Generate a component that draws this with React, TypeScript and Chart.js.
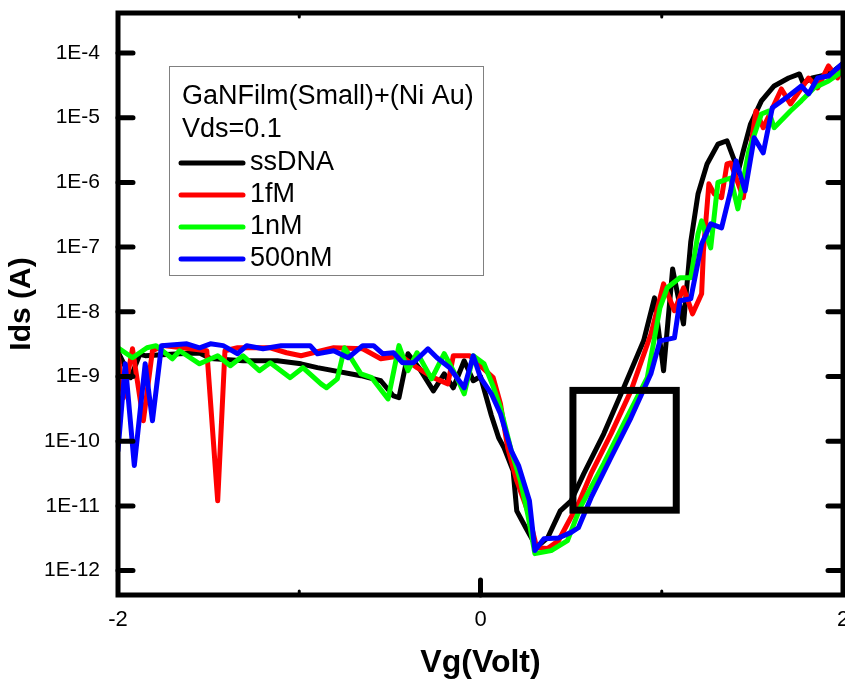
import React, { useEffect, useRef } from "react";
import { Chart, registerables } from "chart.js";

Chart.register(...registerables);

type Pt = [number, number];

// Vg (V), Ids (A)
const ssDNA: Pt[] = [
  [-2.0, 2.4e-9], [-1.93, 9.6e-10], [-1.88, 2.2e-9], [-1.85, 2.1e-9], [-1.66, 2.25e-9], [-1.55, 2.3e-9],
  [-1.49, 1.9e-9], [-1.31, 1.75e-9], [-1.12, 1.75e-9], [-0.99, 1.57e-9], [-0.9, 1.37e-9], [-0.66, 1.03e-9],
  [-0.55, 8.6e-10], [-0.48, 5.0e-10], [-0.45, 4.7e-10], [-0.4, 2.25e-9], [-0.34, 1.37e-9], [-0.26, 6.0e-10],
  [-0.2, 1.1e-9], [-0.15, 6.7e-10], [-0.09, 1.75e-9], [-0.04, 8.6e-10], [0.0, 1.0e-9], [0.06, 2.5e-10],
  [0.1, 1.13e-10], [0.13, 7.9e-11], [0.18, 3.5e-11], [0.2, 8.4e-12], [0.25, 4.6e-12], [0.31, 2.3e-12],
  [0.37, 3.2e-12], [0.44, 8.4e-12], [0.5, 1.2e-11], [0.57, 3.15e-11], [0.68, 1.3e-10], [0.79, 6.7e-10],
  [0.9, 3.56e-9], [0.96, 1.64e-8], [1.01, 1.23e-9], [1.06, 4.6e-8], [1.12, 6.5e-9], [1.16, 1.2e-7],
  [1.2, 6.6e-7], [1.25, 1.93e-6], [1.31, 3.9e-6], [1.36, 4.4e-6], [1.4, 2.2e-6], [1.42, 1.4e-6],
  [1.45, 3.06e-6], [1.49, 8.0e-6], [1.55, 1.82e-5], [1.62, 3.09e-5], [1.7, 4.11e-5], [1.76, 4.74e-5],
  [1.78, 3.44e-5], [1.83, 4.11e-5], [1.88, 4.4e-5], [1.95, 5.3e-5], [2.0, 6.8e-5],
];

const fM1: Pt[] = [
  [-2.0, 2.25e-9], [-1.97, 4.7e-10], [-1.92, 2.68e-9], [-1.86, 2.07e-10], [-1.81, 2.5e-9], [-1.75, 3.0e-9],
  [-1.51, 2.5e-9], [-1.45, 1.2e-11], [-1.41, 2.5e-9], [-1.34, 2.78e-9], [-1.16, 2.78e-9], [-1.07, 2.33e-9],
  [-0.99, 2.09e-9], [-0.81, 2.78e-9], [-0.65, 2.68e-9], [-0.55, 1.88e-9], [-0.44, 2.09e-9], [-0.35, 1.37e-9],
  [-0.26, 9.6e-10], [-0.18, 7.7e-10], [-0.15, 2.09e-9], [-0.06, 2.09e-9], [0.01, 1.37e-9], [0.07, 9.6e-10],
  [0.11, 3.8e-10], [0.15, 7.9e-11], [0.2, 2.45e-11], [0.26, 8.4e-12], [0.31, 2.26e-12], [0.37, 2.19e-12],
  [0.43, 2.9e-12], [0.48, 5.3e-12], [0.54, 1.08e-11], [0.61, 3.15e-11], [0.72, 1.3e-10], [0.83, 6.0e-10],
  [0.94, 4.5e-9], [1.01, 2.7e-8], [1.07, 1.04e-8], [1.12, 2.35e-8], [1.17, 9.3e-9], [1.22, 1.9e-8],
  [1.23, 8.7e-8], [1.26, 9.5e-7], [1.29, 6.6e-7], [1.33, 5.8e-7], [1.36, 1.93e-6], [1.38, 2.0e-6],
  [1.45, 5.8e-7], [1.52, 1.27e-5], [1.56, 7.0e-6], [1.66, 2.78e-5], [1.71, 1.63e-5], [1.81, 4.1e-5],
  [1.86, 2.88e-5], [1.92, 6.3e-5], [1.97, 4.11e-5], [2.0, 7.0e-5],
];

const nM1: Pt[] = [
  [-2.0, 2.78e-9], [-1.92, 1.95e-9], [-1.84, 2.78e-9], [-1.79, 3.0e-9], [-1.7, 1.88e-9], [-1.66, 2.5e-9],
  [-1.55, 1.57e-9], [-1.45, 2.09e-9], [-1.38, 1.47e-9], [-1.31, 2.09e-9], [-1.22, 1.23e-9], [-1.16, 1.63e-9],
  [-1.05, 9.6e-10], [-0.98, 1.37e-9], [-0.88, 7.7e-10], [-0.85, 6.7e-10], [-0.79, 9.2e-10], [-0.75, 2.78e-9],
  [-0.66, 1.1e-9], [-0.6, 9.6e-10], [-0.51, 4.5e-10], [-0.45, 3.0e-9], [-0.4, 1.23e-9], [-0.35, 2.33e-9],
  [-0.27, 9.2e-10], [-0.2, 2.25e-9], [-0.13, 9.6e-10], [-0.09, 5.4e-10], [-0.04, 2.09e-9], [0.02, 1.57e-9],
  [0.07, 7.0e-10], [0.11, 3.3e-10], [0.17, 7.1e-11], [0.22, 2.45e-11], [0.26, 7.6e-12], [0.3, 1.83e-12],
  [0.39, 2.04e-12], [0.48, 2.9e-12], [0.55, 9.4e-12], [0.68, 4.5e-11], [0.79, 1.86e-10], [0.92, 9.6e-10],
  [0.99, 1.15e-8], [1.03, 2.35e-8], [1.1, 3.35e-8], [1.16, 3.35e-8], [1.2, 1.6e-7], [1.22, 2.54e-7],
  [1.27, 9.7e-8], [1.31, 1.0e-6], [1.38, 1.17e-6], [1.42, 3.9e-7], [1.48, 3.06e-6], [1.55, 1.14e-5],
  [1.59, 1.27e-5], [1.62, 7.0e-6], [1.71, 1.27e-5], [1.77, 1.82e-5], [1.84, 2.88e-5], [1.92, 3.7e-5],
  [2.0, 5.3e-5],
];

const nM500: Pt[] = [
  [-2.0, 7.1e-11], [-1.96, 1.57e-9], [-1.91, 4.2e-11], [-1.85, 1.57e-9], [-1.81, 2.07e-10], [-1.76, 3.0e-9],
  [-1.62, 3.2e-9], [-1.55, 2.78e-9], [-1.49, 3.2e-9], [-1.42, 3.0e-9], [-1.34, 2.25e-9], [-1.29, 3.0e-9],
  [-1.2, 2.68e-9], [-1.1, 3.0e-9], [-0.94, 3.0e-9], [-0.9, 2.25e-9], [-0.81, 2.5e-9], [-0.73, 1.95e-9],
  [-0.65, 3.0e-9], [-0.59, 3.0e-9], [-0.54, 2.25e-9], [-0.48, 2.33e-9], [-0.43, 1.63e-9], [-0.37, 1.63e-9],
  [-0.29, 2.68e-9], [-0.24, 1.95e-9], [-0.17, 1.37e-9], [-0.09, 6.7e-10], [-0.04, 2.09e-9], [0.0, 9.6e-10],
  [0.06, 5.4e-10], [0.11, 2.66e-10], [0.17, 7.1e-11], [0.21, 4.2e-11], [0.27, 1.2e-11], [0.3, 2.04e-12],
  [0.35, 3.1e-12], [0.43, 3.2e-12], [0.5, 3.9e-12], [0.54, 4.6e-12], [0.61, 1.34e-11], [0.72, 5.6e-11],
  [0.83, 2.3e-10], [0.94, 1.1e-9], [0.99, 3.56e-9], [1.07, 3.96e-9], [1.1, 1.48e-8], [1.16, 1.59e-8],
  [1.22, 1.12e-7], [1.27, 2.29e-7], [1.33, 1.98e-7], [1.38, 7.4e-7], [1.41, 2.15e-6], [1.46, 7.4e-7],
  [1.51, 4.9e-6], [1.56, 2.86e-6], [1.61, 1.42e-5], [1.7, 2.17e-5], [1.77, 3.09e-5], [1.81, 2.33e-5],
  [1.86, 4.11e-5], [1.92, 4.4e-5], [2.0, 7.0e-5],
];

const seriesLabels = ["ssDNA", "1fM", "1nM", "500nM"];
const seriesColors = ["#000000", "#ff0000", "#00ff00", "#0000ff"];
const seriesData = [ssDNA, fM1, nM1, nM500];

const legendHeader = ["GaNFilm(Small)+(Ni Au)", "Vds=0.1"];

const xMin = -2;
const xMax = 2;
const xTickValues = [-2, 0, 2];
const xMinorTickValues = [-1, 1];
const yMin = 4.2e-13;
const yMax = 4.15e-4;
const yTickValues = [1e-12, 1e-11, 1e-10, 1e-9, 1e-8, 1e-7, 1e-6, 1e-5, 1e-4];

// highlighted region (Vg range, Ids range)
const boxVg = [0.51, 1.08];
const boxIds = [8.6e-12, 6.1e-10];

const FONT = "'Liberation Sans', Arial, sans-serif";
const NARROW = "'Liberation Sans Narrow', 'Liberation Sans', Arial, sans-serif";

export default function App() {
  const ref = useRef<HTMLCanvasElement>(null);

  useEffect(() => {
    document.body.style.margin = "0";
    const canvas = ref.current;
    if (!canvas) return;

    const framePlugin = {
      id: "frame",
      afterDatasetsDraw(chart: any) {
        const { ctx, chartArea: a, scales } = chart;
        const xs = scales.x;
        const ys = scales.y;
        ctx.save();
        ctx.strokeStyle = "#000";
        // highlight box
        ctx.lineWidth = 7;
        ctx.lineJoin = "miter";
        const bx0 = xs.getPixelForValue(boxVg[0]);
        const bx1 = xs.getPixelForValue(boxVg[1]);
        const by0 = ys.getPixelForValue(boxIds[1]);
        const by1 = ys.getPixelForValue(boxIds[0]);
        ctx.strokeRect(bx0, by0, bx1 - bx0, by1 - by0);
        // frame
        ctx.lineWidth = 5;
        ctx.strokeRect(a.left, a.top, a.right - a.left, a.bottom - a.top);
        // ticks
        ctx.lineCap = "round";
        for (const v of yTickValues) {
          const py = ys.getPixelForValue(v);
          ctx.beginPath();
          ctx.moveTo(a.left, py);
          ctx.lineTo(a.left + 15, py);
          ctx.moveTo(a.right, py);
          ctx.lineTo(a.right - 15, py);
          ctx.stroke();
        }
        for (const v of xTickValues) {
          const px = xs.getPixelForValue(v);
          if (px <= a.left + 2 || px >= a.right - 2) continue;
          ctx.beginPath();
          ctx.moveTo(px, a.bottom);
          ctx.lineTo(px, a.bottom - 15);
          ctx.stroke();
        }
        ctx.lineWidth = 3;
        for (const v of xMinorTickValues) {
          const px = xs.getPixelForValue(v);
          ctx.beginPath();
          ctx.moveTo(px, a.bottom);
          ctx.lineTo(px, a.bottom - 4);
          ctx.moveTo(px, a.top);
          ctx.lineTo(px, a.top + 4);
          ctx.stroke();
        }
        ctx.restore();
      },
      afterDraw(chart: any) {
        const { ctx } = chart;
        ctx.save();
        const bx = 169.5, by = 66.5, bw = 314, bh = 209;
        ctx.fillStyle = "#fff";
        ctx.fillRect(bx, by, bw, bh);
        ctx.strokeStyle = "#808080";
        ctx.lineWidth = 1;
        ctx.strokeRect(bx, by, bw, bh);
        ctx.fillStyle = "#000";
        ctx.font = `27px ${FONT}`;
        ctx.textBaseline = "middle";
        ctx.textAlign = "left";
        legendHeader.forEach((t, i) => ctx.fillText(t, 182, 97 + i * 33));
        chart.data.datasets.forEach((ds: any, i: number) => {
          const y = 163 + i * 32;
          ctx.strokeStyle = ds.borderColor;
          ctx.lineWidth = 5;
          ctx.lineCap = "round";
          ctx.beginPath();
          ctx.moveTo(181, y);
          ctx.lineTo(243, y);
          ctx.stroke();
          ctx.fillStyle = "#000";
          ctx.fillText(ds.label, 250, y);
        });
        ctx.restore();
      },
    };

    const datasets = seriesData.map((pts, i) => ({
      label: seriesLabels[i],
      data: pts.map(([x, y]) => ({ x, y })),
      borderColor: seriesColors[i],
      backgroundColor: seriesColors[i],
      borderWidth: 5,
      pointRadius: 0,
      tension: 0,
      fill: false,
      borderJoinStyle: "round" as const,
      borderCapStyle: "round" as const,
      order: seriesData.length - 1 - i,
    }));

    const chart = new Chart(canvas, {
      type: "line",
      data: { datasets },
      options: {
        responsive: false,
        animation: false,
        devicePixelRatio: 1,
        layout: { padding: { top: 13, right: 2, left: 0, bottom: 0 } },
        plugins: { legend: { display: false }, tooltip: { enabled: false } },
        scales: {
          x: {
            type: "linear",
            min: xMin,
            max: xMax,
            grid: { display: false, drawTicks: false },
            border: { display: false },
            afterBuildTicks: (s: any) => {
              s.ticks = xTickValues.map((v) => ({ value: v }));
            },
            ticks: {
              color: "#000",
              font: { family: NARROW, size: 22 },
              padding: 12,
              maxRotation: 0,
              autoSkip: false,
              callback: (v: any) => String(v),
            },
            title: {
              display: true,
              text: "Vg(Volt)",
              color: "#000",
              font: { family: NARROW, size: 32, weight: "bold" },
              padding: { top: 0, bottom: 0 },
            },
            afterFit: (s: any) => {
              s.height = 87;
              s.paddingLeft = 0;
              s.paddingRight = 0;
            },
          },
          y: {
            type: "logarithmic",
            min: yMin,
            max: yMax,
            grid: { display: false, drawTicks: false },
            border: { display: false },
            afterBuildTicks: (s: any) => {
              s.ticks = yTickValues.map((v) => ({ value: v }));
            },
            ticks: {
              color: "#000",
              font: { family: FONT, size: 21 },
              padding: 18,
              autoSkip: false,
              callback: (v: any) => "1E" + Math.round(Math.log10(Number(v))),
            },
            title: {
              display: true,
              text: "Ids (A)",
              color: "#000",
              font: { family: FONT, size: 30, weight: "bold" },
              padding: { top: 4, bottom: 0 },
            },
            afterFit: (s: any) => {
              s.width = 118;
              s.paddingTop = 0;
              s.paddingBottom = 0;
            },
          },
        },
      },
      plugins: [framePlugin],
    });

    return () => chart.destroy();
  }, []);

  return (
    <canvas
      ref={ref}
      width={845}
      height={682}
      style={{ display: "block", width: 845, height: 682 }}
    />
  );
}
